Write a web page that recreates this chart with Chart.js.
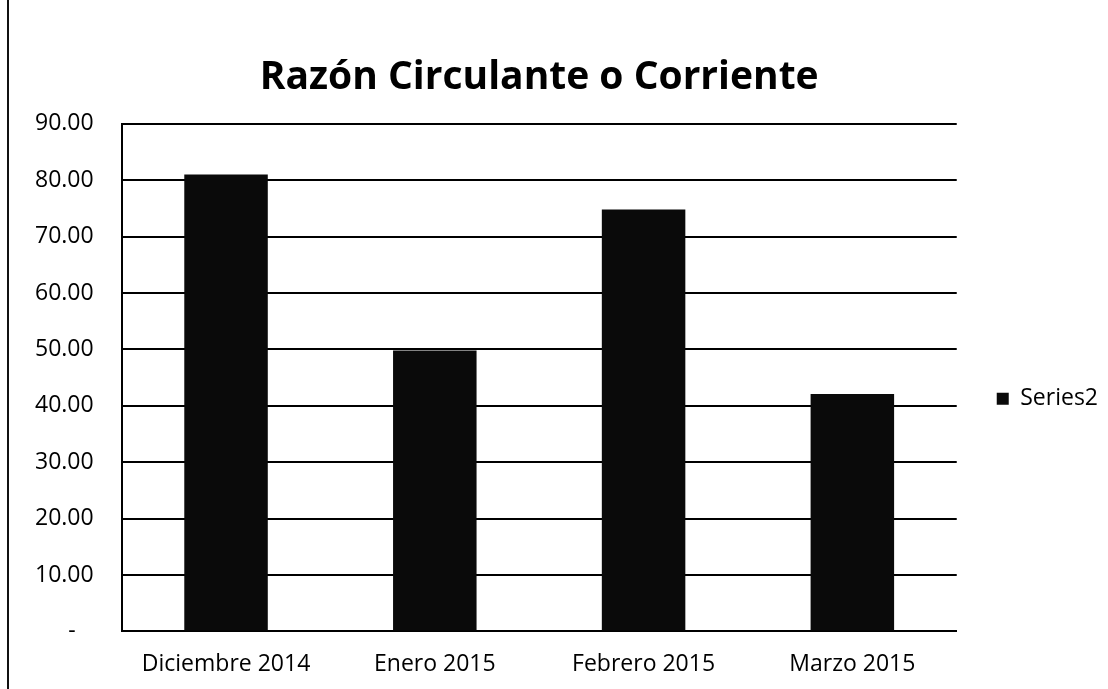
<!DOCTYPE html>
<html>
<head>
<meta charset="utf-8">
<script src="https://cdn.jsdelivr.net/npm/chart.js@4/dist/chart.umd.min.js"></script>
<style>
  html, body { margin: 0; padding: 0; background: #fff; }
  #wrap { position: relative; width: 1108px; height: 689px; }
  #linea { position: absolute; left: 7px; top: 0; width: 2px; height: 689px; background: #111; }
</style>
</head>
<body>
<div id="wrap">
  <div id="linea"></div>
  <canvas id="grafico" width="1108" height="689"></canvas>
</div>
<script>
// datos del gráfico
const categorias = ['Diciembre 2014', 'Enero 2015', 'Febrero 2015', 'Marzo 2015'];
const valores = [81.0, 49.8, 74.8, 42.1];
const nombreSerie = 'Series2';
const titulo = 'Razón Circulante o Corriente';
const ejeMin = 0, ejeMax = 90, ejePaso = 10;

const fuente = "'Open Sans', 'Noto Sans', sans-serif";

new Chart(document.getElementById('grafico'), {
    type: 'bar',
    data: {
        labels: categorias,
        datasets: [{
            label: nombreSerie,
            data: valores,
            backgroundColor: '#0a0a0a',
            borderWidth: 0,
            categoryPercentage: 0.8,
            barPercentage: 0.5
        }]
    },
    options: {
        responsive: false,
        animation: false,
        layout: { padding: { left: 7, right: 0, top: 30, bottom: -8 } },
        plugins: {
            title: {
                display: true,
                text: titulo,
                fullSize: false,
                color: '#000',
                font: { family: fuente, size: 39, weight: 'bold' },
                padding: { top: 24, bottom: 23 }
            },
            legend: {
                position: 'right',
                fullSize: false,
                title: { display: true, text: ' ', font: { size: 12 }, padding: { top: 28, bottom: 0 } },
                labels: {
                    color: '#000',
                    font: { family: fuente, size: 23 },
                    boxWidth: 12,
                    boxHeight: 12,
                    padding: 40
                }
            },
            tooltip: { enabled: false }
        },
        scales: {
            x: {
                grid: { display: false, drawTicks: false },
                border: { display: true, color: '#000', width: 2 },
                ticks: { color: '#000', font: { family: fuente, size: 23 }, padding: 19 }
            },
            y: {
                min: ejeMin,
                max: ejeMax,
                grid: { color: '#000', lineWidth: 2, drawTicks: false },
                border: { display: true, color: '#000', width: 2 },
                ticks: {
                    stepSize: ejePaso,
                    color: '#000',
                    padding: 28,
                    font: { family: fuente, size: 23 },
                    callback: v => v === 0 ? '-   ' : v.toFixed(2)
                }
            }
        }
    }
});
</script>
</body>
</html>
